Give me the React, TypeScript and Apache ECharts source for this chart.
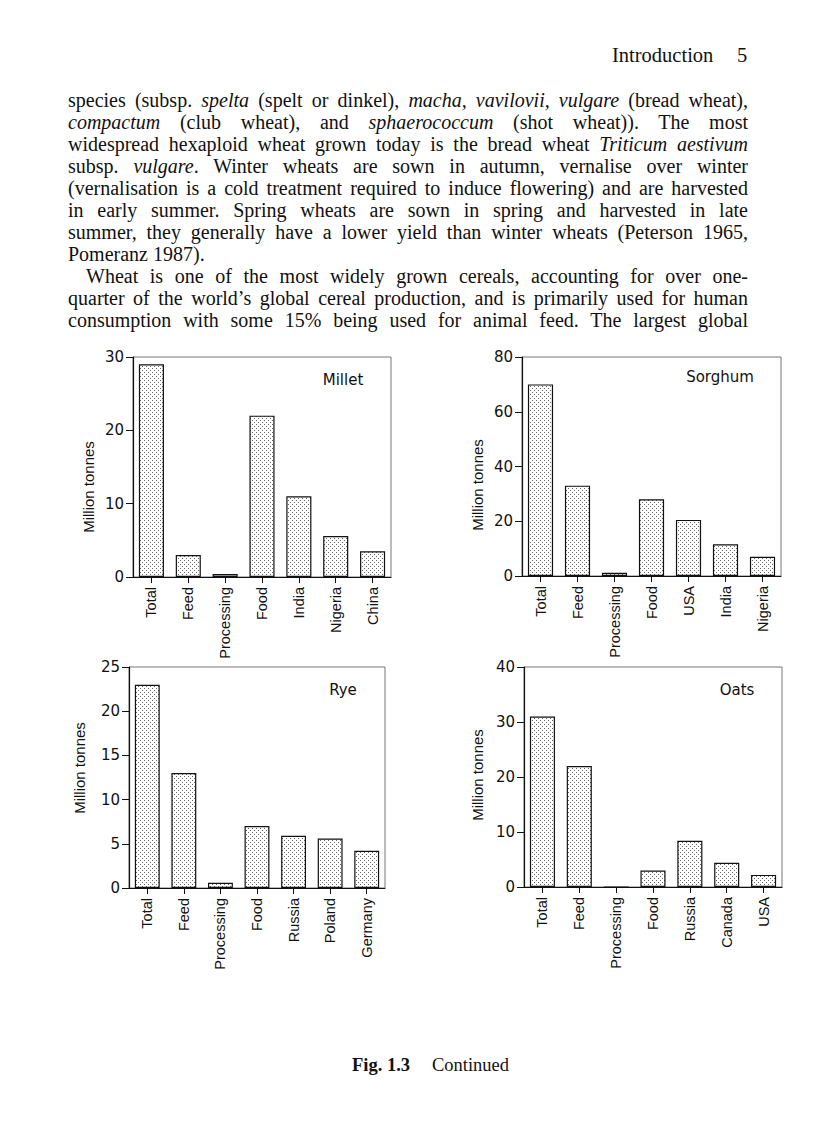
import React, { useEffect, useRef } from 'react';
import * as echarts from 'echarts';

const milletCategories = ['Total', 'Feed', 'Processing', 'Food', 'India', 'Nigeria', 'China'];
const milletValues = [29, 3, 0.4, 22, 11, 5.6, 3.5];
const sorghumCategories = ['Total', 'Feed', 'Processing', 'Food', 'USA', 'India', 'Nigeria'];
const sorghumValues = [70, 33, 1.2, 28, 20.5, 11.6, 7];
const ryeCategories = ['Total', 'Feed', 'Processing', 'Food', 'Russia', 'Poland', 'Germany'];
const ryeValues = [23, 13, 0.6, 7, 5.9, 5.6, 4.2];
const oatsCategories = ['Total', 'Feed', 'Processing', 'Food', 'Russia', 'Canada', 'USA'];
const oatsValues = [31, 22, 0, 3, 8.4, 4.4, 2.2];

const panelTitles = ['Millet', 'Sorghum', 'Rye', 'Oats'];
const yMaxes = [30, 80, 25, 40];
const yIntervals = [10, 20, 5, 10];
const yAxisName = 'Million tonnes';

const grids = [
  { left: 133, top: 357, width: 258, height: 220 },
  { left: 522, top: 357, width: 259, height: 219 },
  { left: 129, top: 667, width: 256, height: 221 },
  { left: 524, top: 667, width: 258, height: 220 },
];
const titlePos = [
  [343, 380],
  [720, 377],
  [343, 690],
  [737, 690],
];
const yNamePos = [
  [88, 487],
  [477, 485],
  [79, 768],
  [477, 775],
];

function makePattern() {
  const c = document.createElement('canvas');
  c.width = 4;
  c.height = 4;
  const ctx = c.getContext('2d')!;
  ctx.fillStyle = '#ffffff';
  ctx.fillRect(0, 0, 4, 4);
  ctx.fillStyle = '#666666';
  ctx.fillRect(0, 0, 1, 1);
  ctx.fillRect(2, 2, 1, 1);
  return { image: c, repeat: 'repeat', imageWidth: 4, imageHeight: 4 };
}

const bodyLines: { parts: [string, boolean][]; justify: boolean; indent?: number }[] = [
  {
    parts: [
      ['species (subsp. ', false],
      ['spelta', true],
      [' (spelt or dinkel), ', false],
      ['macha, vavilovii, vulgare', true],
      [' (bread wheat),', false],
    ],
    justify: true,
  },
  {
    parts: [
      ['compactum', true],
      [' (club wheat), and ', false],
      ['sphaerococcum', true],
      [' (shot wheat)). The most', false],
    ],
    justify: true,
  },
  {
    parts: [
      ['widespread hexaploid wheat grown today is the bread wheat ', false],
      ['Triticum aestivum', true],
    ],
    justify: true,
  },
  {
    parts: [
      ['subsp. ', false],
      ['vulgare', true],
      ['. Winter wheats are sown in autumn, vernalise over winter', false],
    ],
    justify: true,
  },
  {
    parts: [['(vernalisation is a cold treatment required to induce flowering) and are harvested', false]],
    justify: true,
  },
  {
    parts: [['in early summer. Spring wheats are sown in spring and harvested in late', false]],
    justify: true,
  },
  {
    parts: [['summer, they generally have a lower yield than winter wheats (Peterson 1965,', false]],
    justify: true,
  },
  { parts: [['Pomeranz 1987).', false]], justify: false },
  {
    parts: [['Wheat is one of the most widely grown cereals, accounting for over one-', false]],
    justify: true,
    indent: 18,
  },
  {
    parts: [['quarter of the world\u2019s global cereal production, and is primarily used for human', false]],
    justify: true,
  },
  {
    parts: [['consumption with some 15% being used for animal feed. The largest global', false]],
    justify: true,
  },
];

export default function App() {
  const ref = useRef<HTMLDivElement>(null);

  useEffect(() => {
    if (!ref.current) return;
    const chart = echarts.init(ref.current, null, { renderer: 'svg' });
    const pattern = makePattern();
    const cats = [milletCategories, sorghumCategories, ryeCategories, oatsCategories];
    const vals = [milletValues, sorghumValues, ryeValues, oatsValues];

    const graphic: any[] = [];
    panelTitles.forEach((t, i) => {
      graphic.push({
        type: 'text',
        x: titlePos[i][0],
        y: titlePos[i][1],
        style: {
          text: t,
          align: 'center',
          verticalAlign: 'middle',
          fontFamily: 'DejaVu Sans',
          fontSize: 15,
          fill: '#111',
        },
      });
      graphic.push({
        type: 'text',
        x: yNamePos[i][0],
        y: yNamePos[i][1],
        rotation: Math.PI / 2,
        style: {
          text: yAxisName,
          align: 'center',
          verticalAlign: 'middle',
          fontFamily: 'Liberation Sans',
          fontSize: 15,
          fill: '#111',
        },
      });
    });

    const option: any = {
      animation: false,
      backgroundColor: 'transparent',
      grid: grids.map((g) => ({
        ...g,
        show: true,
        borderColor: '#777',
        borderWidth: 1,
        backgroundColor: 'transparent',
        containLabel: false,
      })),
      xAxis: cats.map((c, i) => ({
        type: 'category',
        gridIndex: i,
        data: c,
        axisLine: { show: true, lineStyle: { color: '#111', width: 1.2 } },
        axisTick: { show: true, alignWithLabel: true, length: 6, lineStyle: { color: '#111' } },
        axisLabel: {
          rotate: 90,
          margin: 10,
          fontFamily: 'Liberation Sans',
          fontSize: 14.5,
          color: '#111',
          interval: 0,
        },
        splitLine: { show: false },
      })),
      yAxis: yMaxes.map((m, i) => ({
        type: 'value',
        gridIndex: i,
        min: 0,
        max: m,
        interval: yIntervals[i],
        axisLine: { show: true, lineStyle: { color: '#111', width: 1.2 } },
        axisTick: { show: true, length: 7, lineStyle: { color: '#111' } },
        axisLabel: {
          margin: 9,
          fontFamily: 'DejaVu Sans',
          fontSize: 15,
          color: '#111',
        },
        splitLine: { show: false },
      })),
      series: vals.map((v, i) => ({
        type: 'bar',
        xAxisIndex: i,
        yAxisIndex: i,
        data: v,
        barWidth: '68%',
        itemStyle: {
          color: pattern,
          borderColor: '#111',
          borderWidth: 1.2,
        },
      })),
      graphic,
    };
    chart.setOption(option);
    return () => chart.dispose();
  }, []);

  const serif = '"Liberation Serif", "Times New Roman", serif';

  return (
    <div
      style={{
        position: 'absolute',
        left: 0,
        top: 0,
        width: 816,
        height: 1123,
        background: '#fff',
        fontFamily: serif,
        color: '#111',
        overflow: 'hidden',
      }}
    >
      <div ref={ref} style={{ position: 'absolute', left: 0, top: 0, width: 816, height: 1123 }} />
      <div
        style={{
          position: 'absolute',
          left: 612,
          top: 44,
          height: 22,
          lineHeight: '22px',
          fontSize: 20.5,
          whiteSpace: 'nowrap',
        }}
      >
        Introduction
      </div>
      <div
        style={{
          position: 'absolute',
          left: 737,
          top: 44,
          height: 22,
          lineHeight: '22px',
          fontSize: 20.5,
          whiteSpace: 'nowrap',
        }}
      >
        5
      </div>
      <div style={{ position: 'absolute', left: 68, top: 89, width: 680 }}>
        {bodyLines.map((ln, i) => (
          <div
            key={i}
            style={{
              height: 22,
              lineHeight: '22px',
              fontSize: 20,
              whiteSpace: 'nowrap',
              textAlign: ln.justify ? 'justify' : 'left',
              textAlignLast: ln.justify ? 'justify' : 'left',
              paddingLeft: ln.indent || 0,
            } as any}
          >
            {ln.parts.map((p, j) =>
              p[1] ? <i key={j}>{p[0]}</i> : <span key={j}>{p[0]}</span>
            )}
          </div>
        ))}
      </div>
      <div
        style={{
          position: 'absolute',
          left: 352,
          top: 1054,
          height: 22,
          lineHeight: '22px',
          fontSize: 18.5,
          fontWeight: 'bold',
          whiteSpace: 'nowrap',
        }}
      >
        Fig. 1.3
      </div>
      <div
        style={{
          position: 'absolute',
          left: 432,
          top: 1054,
          height: 22,
          lineHeight: '22px',
          fontSize: 18.5,
          whiteSpace: 'nowrap',
        }}
      >
        Continued
      </div>
    </div>
  );
}
